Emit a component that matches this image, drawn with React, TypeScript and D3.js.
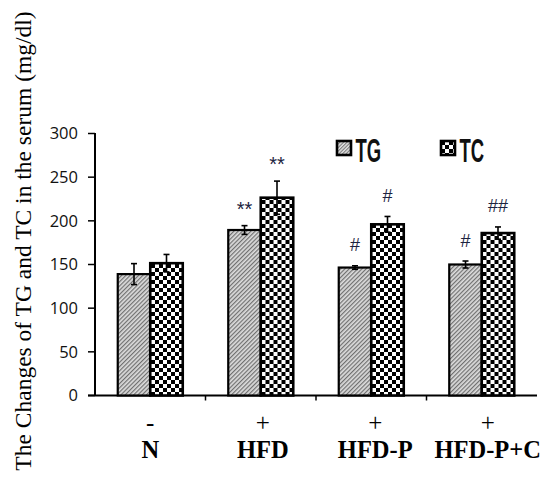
import React from 'react';
import { scaleBand, scaleLinear } from 'd3';

// groups and the HFD -/+ row under them
const categories = ['N', 'HFD', 'HFD-P', 'HFD-P+C'];
const hfdSigns = ['-', '+', '+', '+'];
const seriesNames = ['TG', 'TC'];

// mg/dl
const tgValues = [139, 189.5, 146.5, 150];
const tgErrors = [12, 5, 2, 4];
const tcValues = [151.5, 226.5, 196, 186];
const tcErrors = [10, 19, 9, 7];

// significance marks above the error bars
const tgMarks = ['', '**', '#', '#'];
const tcMarks = ['', '**', '#', '##'];

const yTicks = [0, 50, 100, 150, 200, 250, 300];

const App = () => {
    const width = 542;
    const height = 478;
    const axisX = 95;
    const axisRight = 537;
    const baseY = 395.5;
    const topY = 133.5;

    const yScale = scaleLinear().domain([0, 300]).range([baseY, topY]);

    const xScale = scaleBand()
        .domain(categories)
        .range([axisX, axisRight])
        .padding(0);

    const xInner = scaleBand()
        .domain(seriesNames)
        .range([0, xScale.bandwidth()])
        .paddingInner(0)
        .paddingOuter(0.7);

    const series = [
        { name: 'TG', values: tgValues, errors: tgErrors, marks: tgMarks, fill: 'url(#hatch)' },
        { name: 'TC', values: tcValues, errors: tcErrors, marks: tcMarks, fill: 'url(#checker)' },
    ];

    const cap = 3;
    const serif = '"Liberation Serif", "Times New Roman", serif';

    return (
        <svg
            width={width}
            height={height}
            style={{ position: 'absolute', left: 0, top: 0, background: '#fff' }}
        >
            <defs>
                <pattern id="hatch" width="3" height="3" patternUnits="userSpaceOnUse" patternTransform="rotate(45)">
                    <rect width="3" height="3" fill="#dcdcdc" />
                    <rect width="1.2" height="3" fill="#707070" />
                </pattern>
                <pattern id="checker" width="8" height="8" patternUnits="userSpaceOnUse">
                    <rect width="8" height="8" fill="#fff" />
                    <rect width="4" height="4" fill="#000" />
                    <rect x="4" y="4" width="4" height="4" fill="#000" />
                </pattern>
                <pattern id="hatchSmall" width="2.5" height="2.5" patternUnits="userSpaceOnUse" patternTransform="rotate(45)">
                    <rect width="2.5" height="2.5" fill="#e0e0e0" />
                    <rect width="1" height="2.5" fill="#777" />
                </pattern>
            </defs>

            {/* y axis title */}
            <text
                transform={`translate(31, 241) rotate(-90)`}
                style={{ textAnchor: 'middle', fontFamily: serif, fontSize: 23.5 }}
                fill="#000"
            >
                The Changes of TG and TC in the serum (mg/dl)
            </text>

            {/* y axis */}
            <line x1={axisX} x2={axisX} y1={topY - 0.5} y2={baseY + 0.5} stroke="#000" strokeWidth={2} />
            {yTicks.map(t =>
                <g key={`y-tick-${t}`} transform={`translate(0, ${yScale(t)})`}>
                    <line x1={axisX - 7} x2={axisX} stroke="#000" strokeWidth={1.5} />
                    <text
                        x={78}
                        dy="0.36em"
                        style={{ textAnchor: 'end', fontFamily: '"Open Sans", "Noto Sans", sans-serif', fontSize: 16.5 }}
                        fill="#111"
                    >
                        {t}
                    </text>
                </g>
            )}

            {/* x axis */}
            <line x1={axisX - 7} x2={axisRight} y1={baseY} y2={baseY} stroke="#000" strokeWidth={2} />
            {categories.slice(1).map(c =>
                <line
                    key={`x-tick-${c}`}
                    x1={xScale(c)}
                    x2={xScale(c)}
                    y1={baseY}
                    y2={baseY + 5}
                    stroke="#000"
                    strokeWidth={1.5}
                />
            )}

            {/* bars */}
            {categories.map((c, i) =>
                <g key={`group-${c}`} transform={`translate(${xScale(c)}, 0)`}>
                    {series.map(s => {
                        const x = xInner(s.name) ?? 0;
                        const w = xInner.bandwidth();
                        const v = s.values[i];
                        const e = s.errors[i];
                        const cx = x + w / 2;
                        const errTop = yScale(v + e);
                        const isStar = s.marks[i].includes('*');
                        return (
                            <g key={`bar-${c}-${s.name}`}>
                                <rect
                                    x={x}
                                    y={yScale(v)}
                                    width={w}
                                    height={baseY - yScale(v)}
                                    fill={s.fill}
                                    stroke="#000"
                                    strokeWidth={s.name === 'TC' ? 2.6 : 2.2}
                                />
                                <line x1={cx} x2={cx} y1={yScale(v - e)} y2={errTop} stroke="#000" strokeWidth={1.6} />
                                <line x1={cx - cap} x2={cx + cap} y1={errTop} y2={errTop} stroke="#000" strokeWidth={1.6} />
                                <line x1={cx - cap} x2={cx + cap} y1={yScale(v - e)} y2={yScale(v - e)} stroke="#000" strokeWidth={1.6} />
                                {s.marks[i] &&
                                    <text
                                        x={cx}
                                        y={errTop - 21 + (isStar ? 11 : 6.5)}
                                        style={{ textAnchor: 'middle', fontFamily: '"Liberation Sans", Arial, sans-serif', fontSize: isStar ? 20 : 18 }}
                                        fill="#1c2340"
                                    >
                                        {s.marks[i]}
                                    </text>
                                }
                            </g>
                        );
                    })}
                </g>
            )}

            {/* category labels */}
            {categories.map((c, i) =>
                <g key={`x-label-${c}`} transform={`translate(${(xScale(c) ?? 0) + xScale.bandwidth() / 2 + i * 2}, 0)`}>
                    <text
                        y={431}
                        style={{ textAnchor: 'middle', fontFamily: serif, fontSize: 25 }}
                        fill="#000"
                    >
                        {hfdSigns[i]}
                    </text>
                    <text
                        y={458}
                        style={{ textAnchor: 'middle', fontFamily: serif, fontSize: 24.5, fontWeight: 'bold' }}
                        fill="#000"
                    >
                        {c}
                    </text>
                </g>
            )}

            {/* legend */}
            {series.map((s, i) => {
                const lx = 337 + i * 104;
                return (
                    <g key={`legend-${s.name}`} transform={`translate(${lx}, 141)`}>
                        <rect
                            width={14}
                            height={14}
                            fill={s.name === 'TG' ? 'url(#hatchSmall)' : 'url(#checker)'}
                            stroke="#000"
                            strokeWidth={2.6}
                        />
                        <text
                            transform="translate(18.5, 20.5) scale(0.56, 1)"
                            style={{ fontFamily: '"Liberation Sans", Arial, sans-serif', fontSize: 33, fontWeight: 'bold' }}
                            fill="#111"
                        >
                            {s.name}
                        </text>
                    </g>
                );
            })}
        </svg>
    );
};

export default App;
